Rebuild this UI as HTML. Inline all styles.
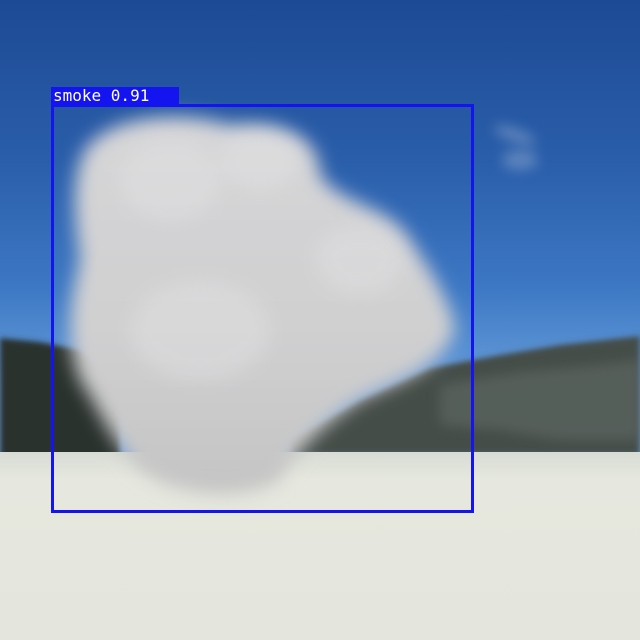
<!DOCTYPE html>
<html><head><meta charset="utf-8"><style>
html,body{margin:0;padding:0;width:640px;height:640px;overflow:hidden;}
#scene{position:relative;width:640px;height:640px;overflow:hidden;
background:linear-gradient(180deg,#1d4a94 0%,#2a5eaa 25%,#3d78c4 45%,#5890d2 55%,#6a9bd8 60%);}
svg{position:absolute;left:0;top:0}
.label{position:absolute;left:51px;top:87px;width:128px;height:18px;background:#1414f0;color:#fff;
font:16px "DejaVu Sans Mono","Liberation Mono",monospace;line-height:18px;padding-left:2px;box-sizing:border-box}
.box{position:absolute;left:51px;top:104px;width:423px;height:409px;border:3px solid #1414f0;box-sizing:border-box}
</style></head><body>
<div id="scene">
<svg width="640" height="640">
<defs>
<filter id="blur" x="-20%" y="-20%" width="140%" height="140%"><feGaussianBlur stdDeviation="9"/></filter>
<filter id="blur2"><feGaussianBlur stdDeviation="3"/></filter>
<filter id="blur3" x="-50%" y="-50%" width="200%" height="200%"><feGaussianBlur stdDeviation="6"/></filter>
<linearGradient id="smokeg" x1="0" y1="0" x2="0" y2="1">
<stop offset="0" stop-color="#d6d6d8"/><stop offset="0.6" stop-color="#cfcfd0"/><stop offset="1" stop-color="#c4c4c4"/></linearGradient>
<linearGradient id="snow" x1="0" y1="0" x2="0" y2="1">
<stop offset="0" stop-color="#d8dcd4"/><stop offset="0.15" stop-color="#e6e8df"/><stop offset="1" stop-color="#e4e6dd"/></linearGradient>
</defs>
<path d="M0,338 L40,342 L80,350 L120,380 L120,460 L0,460 Z" fill="#2a322e" filter="url(#blur2)"/>
<path d="M290,440 L360,400 L430,368 L500,355 L560,345 L640,336 L640,455 L290,455 Z" fill="#454e4a" filter="url(#blur2)"/>
<path d="M440,385 L520,372 L600,365 L640,360 L640,440 L560,440 L500,430 L440,425 Z" fill="#6b7470" opacity="0.45" filter="url(#blur3)"/>
<rect x="0" y="452" width="640" height="188" fill="url(#snow)"/>
<g filter="url(#blur)" fill="url(#smokeg)">
<path d="M85,150 C110,115 180,110 230,125 C280,120 320,135 320,175 C340,205 390,205 410,240 C430,270 450,300 455,330 C440,370 400,380 360,400 C330,420 300,445 280,480 C250,500 180,500 140,470 C110,440 100,410 80,380 C65,340 70,300 80,260 C75,220 70,180 85,150 Z"/>
</g>
<g fill="#e4e4e6" opacity="0.4" filter="url(#blur)">
<ellipse cx="170" cy="180" rx="50" ry="40"/><ellipse cx="260" cy="160" rx="40" ry="30"/>
<ellipse cx="360" cy="260" rx="45" ry="35"/><ellipse cx="200" cy="330" rx="70" ry="50"/>
</g>
<g fill="#b8c8e0" opacity="0.35" filter="url(#blur3)">
<ellipse cx="515" cy="135" rx="22" ry="7" transform="rotate(20 515 135)"/><ellipse cx="520" cy="160" rx="18" ry="10"/>
</g>
</svg>
<div class="box"></div>
<div class="label">smoke 0.91</div>
</div>
</body></html>
